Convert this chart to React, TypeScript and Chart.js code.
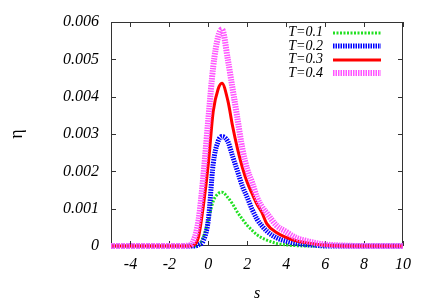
import { useEffect, useRef } from "react";
import { Chart, registerables } from "chart.js";

Chart.register(...registerables);

// Shared abscissa s
const S = [-5, -4, -3, -2, -1.5, -1, -0.75, -0.5, -0.25, 0, 0.25, 0.5, 0.7, 1, 1.25, 1.5, 1.75, 2, 2.25, 2.5, 2.75, 3, 3.5, 4, 4.5, 5, 5.5, 6, 7, 8, 9, 10];

const ETA_T01 = [0, 0, 0, 0, 0, 0, 0, 0.00003, 0.00025, 0.0007, 0.0012, 0.0014, 0.00144, 0.0013, 0.00112, 0.0009, 0.00072, 0.00055, 0.00042, 0.0003, 0.00022, 0.00016, 0.00007, 0.00003, 0.00001, 0, 0, 0, 0, 0, 0, 0];
const ETA_T02 = [0, 0, 0, 0, 0, 0, 0, 0.00003, 0.00015, 0.0007, 0.0022, 0.0028, 0.00293, 0.0028, 0.0024, 0.002, 0.0016, 0.0013, 0.00098, 0.00072, 0.00054, 0.0004, 0.00022, 0.00013, 0.00007, 0.00004, 0.00002, 0, 0, 0, 0, 0];
const ETA_T03 = [0, 0, 0, 0, 0, 0, 0.00002, 0.00025, 0.0011, 0.0022, 0.0036, 0.0042, 0.00436, 0.0039, 0.0032, 0.0026, 0.0021, 0.0017, 0.0014, 0.00112, 0.0009, 0.0006, 0.00036, 0.00023, 0.00014, 0.00009, 0.00005, 0.00002, 0, 0, 0, 0];
const ETA_T04 = [0, 0, 0, 0, 0, 0.00001, 0.00015, 0.0007, 0.0019, 0.0034, 0.0048, 0.0056, 0.0058, 0.005, 0.0042, 0.0034, 0.0026, 0.00205, 0.0017, 0.0013, 0.00105, 0.00088, 0.00055, 0.00038, 0.00022, 0.00014, 0.00008, 0.00004, 0.00001, 0, 0, 0];

const LABELS = ["T=0.1", "T=0.2", "T=0.3", "T=0.4"];
const SERIES = [ETA_T01, ETA_T02, ETA_T03, ETA_T04];
const COLORS = ["#22e022", "#0000ff", "#ff0000", "#ff55ff"];
const WIDTHS = [3, 5, 3, 6];
const DASHES: number[][] = [[2, 1.5], [1.5, 1], [], [1.5, 1]];
const X_TICKS = [-4, -2, 0, 2, 4, 6, 8, 10];
const Y_TICKS = [0, 0.001, 0.002, 0.003, 0.004, 0.005, 0.006];

const SERIF = "'Liberation Serif', 'Times New Roman', serif";

const frameAndLegend = {
  id: "frameAndLegend",
  beforeDatasetsDraw(chart: any) {
    const { ctx, chartArea } = chart;
    const { left, right, top, bottom } = chartArea;
    const xs = chart.scales.x;
    const ys = chart.scales.y;
    const tl = 5;
    ctx.save();
    ctx.strokeStyle = "#333";
    ctx.lineWidth = 1;
    ctx.setLineDash([]);
    ctx.beginPath();
    ctx.rect(left + 0.5, top + 0.5, right - left - 1, bottom - top - 1);
    for (const v of X_TICKS) {
      const px = Math.round(xs.getPixelForValue(v)) + 0.5;
      ctx.moveTo(px, bottom);
      ctx.lineTo(px, bottom - tl);
      ctx.moveTo(px, top);
      ctx.lineTo(px, top + tl);
    }
    for (const v of Y_TICKS) {
      const py = Math.round(ys.getPixelForValue(v)) + 0.5;
      ctx.moveTo(left, py);
      ctx.lineTo(left + tl, py);
      ctx.moveTo(right, py);
      ctx.lineTo(right - tl, py);
    }
    ctx.stroke();
    ctx.restore();
  },
  afterDraw(chart: any) {
    const { ctx, chartArea } = chart;
    ctx.save();
    ctx.font = "italic 14px " + SERIF;
    ctx.textAlign = "right";
    ctx.textBaseline = "middle";
    for (let i = 0; i < LABELS.length; i++) {
      const y = chartArea.top + 10.5 + i * 13.5;
      ctx.fillStyle = "#000";
      ctx.fillText(LABELS[i], chartArea.right - 80, y);
      ctx.strokeStyle = COLORS[i];
      ctx.lineWidth = WIDTHS[i];
      ctx.lineCap = "butt";
      ctx.setLineDash(DASHES[i]);
      ctx.beginPath();
      ctx.moveTo(chartArea.right - 70, Math.round(y));
      ctx.lineTo(chartArea.right - 22, Math.round(y));
      ctx.stroke();
    }
    ctx.restore();
  },
};

export default function App() {
  const ref = useRef<HTMLCanvasElement | null>(null);

  useEffect(() => {
    if (!ref.current) return;
    const datasets = SERIES.map((vals, k) => ({
      label: LABELS[k],
      data: S.map((s, i) => ({ x: s, y: vals[i] })),
      borderColor: COLORS[k],
      borderWidth: WIDTHS[k],
      borderDash: DASHES[k],
      borderCapStyle: "butt",
      order: 4 - k,
      pointRadius: 0,
      cubicInterpolationMode: "monotone",
      fill: false,
      clip: false,
    }));
    const chart = new Chart(ref.current, {
      type: "line",
      data: { datasets: datasets as any },
      options: {
        responsive: false,
        animation: false,
        events: [],
        layout: { padding: { top: 22, right: 33, left: 0, bottom: 0 } },
        plugins: { legend: { display: false }, tooltip: { enabled: false } },
        scales: {
          x: {
            type: "linear",
            min: -5,
            max: 10,
            afterBuildTicks: (s: any) => {
              s.ticks = X_TICKS.map((v) => ({ value: v }));
            },
            afterFit: (s: any) => {
              s.height = 59;
            },
            grid: { display: false, drawTicks: false },
            border: { display: false },
            ticks: {
              padding: 9,
              color: "#000",
              maxRotation: 0,
              autoSkip: false,
              font: { family: SERIF, style: "italic", size: 16 },
            },
            title: {
              display: true,
              text: "s",
              color: "#000",
              font: { family: SERIF, style: "italic", size: 16 },
              padding: { top: 0, bottom: 2 },
            },
          },
          y: {
            type: "linear",
            min: 0,
            max: 0.006,
            afterBuildTicks: (s: any) => {
              s.ticks = Y_TICKS.map((v) => ({ value: v }));
            },
            afterFit: (s: any) => {
              s.width = 111;
            },
            grid: { display: false, drawTicks: false },
            border: { display: false },
            ticks: {
              padding: 12,
              color: "#000",
              autoSkip: false,
              font: { family: SERIF, style: "italic", size: 16 },
              callback: (v: any) => (Number(v) === 0 ? "0" : Number(v).toFixed(3)),
            },
            title: {
              display: true,
              text: "η",
              color: "#000",
              font: { family: SERIF, size: 18 },
              padding: { top: 6, bottom: 0 },
            },
          },
        },
      },
      plugins: [frameAndLegend],
    });
    return () => chart.destroy();
  }, []);

  return (
    <div style={{ position: "fixed", left: 0, top: 0, width: 436, height: 305, background: "#fff" }}>
      <canvas ref={ref} width={436} height={305} />
    </div>
  );
}
